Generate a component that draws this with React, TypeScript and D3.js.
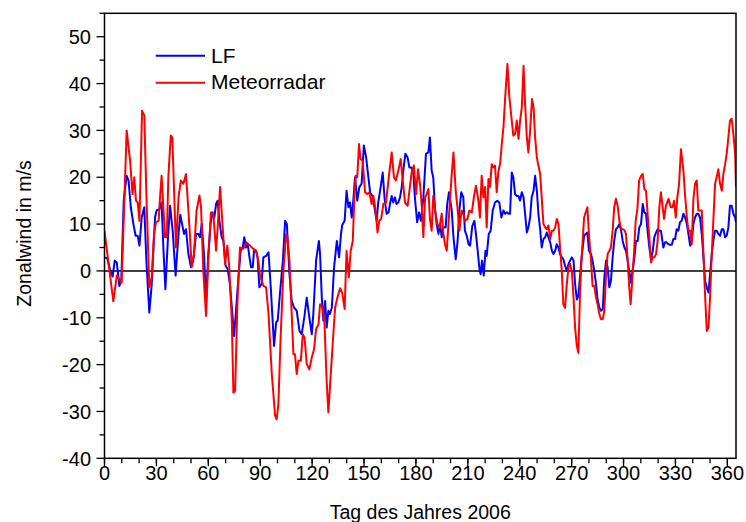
import React from "react";
import * as d3 from "d3";

const lfDays = [0,1.6,3.1,4.7,5.9,7.1,8.6,9.7,11.1,12.8,13.9,15.2,16.7,18,19.2,20.2,21.5,23,24.2,25.9,27.3,29.2,30.1,31.7,33,34.1,35.2,36.7,37.9,39.4,41.1,42.8,43.8,45.2,46,47.1,48.5,50,51.3,52.9,54.3,55.2,56.2,57.5,58.7,60,61.3,62.5,63.5,64.5,65.4,66.4,67.7,68.7,70,71.2,72.5,73.9,74.9,76,77.4,78.7,79.9,80.8,81.8,82.8,83.8,84.7,85.7,86.4,87.6,88.5,89.5,90.8,91.8,93.4,94.8,96.1,98,99.2,100.1,101.4,103.1,104.4,105.4,106.9,108.2,109.5,111.1,112.7,114,115.6,116.9,118.4,119.8,120.7,122.3,123.9,124.6,125.6,126.5,127.5,128.4,129.4,130.3,131.4,132.7,134.3,135.6,136.7,137.4,138.8,139.9,141,141.9,142.9,143.8,144.8,146.1,147.3,148.6,149.9,151.2,152.3,153.5,154.8,155.9,157.3,158.2,159.6,160.8,162,163.1,164.2,165,166,166.9,167.9,168.8,169.8,170.8,171.8,172.7,173.9,175.2,176.2,177.3,178.5,179.4,180.7,181.8,182.9,184.3,185.8,187.2,188.1,189.1,190,191.1,192,193,194,194.9,195.9,197.2,198.1,199.1,200.7,201.7,203,204.1,205.1,206.2,207.4,208.3,209.4,210.4,211.3,212.6,213.8,214.7,215.7,216.6,217.4,218.2,219.2,220.2,220.9,222.1,223.2,224.4,225.7,227,228.2,229.4,230.6,231.6,232.5,233.5,234.4,235.4,236.3,237.3,238.3,239.3,240.2,241.2,242.2,243.1,244.1,245,246,246.9,248,248.9,249.9,250.8,251.8,252.7,253.7,254.7,255.6,256.6,257.6,258.6,259.5,260.5,261.4,262.4,263.3,264.3,265.2,266.2,267.2,268.2,269.1,270.1,271.1,272,273,273.9,274.9,275.8,277.2,278.1,279.1,280,281.2,282.1,283.1,284.1,285,286,287,288,288.9,289.9,290.8,291.8,292.7,293.7,294.6,295.6,296.6,297.6,298.6,299.5,300.5,301.4,302.4,303.3,304.3,305.2,306.3,307.2,308.2,309.1,310.1,311.1,312,313,313.9,314.9,315.9,316.9,317.8,318.8,319.7,320.7,321.6,323,324,324.9,326,326.9,327.9,328.8,329.8,330.7,331.7,332.6,333.6,334.6,335.6,336.6,337.5,338.5,339.4,340.4,341.3,342.3,343.2,344.2,345.2,346.2,347.1,348.1,349.1,350,351,351.9,352.9,353.8,354.8,355.8,356.8,357.7,358.7,359.6,360.6,361.5,362.5,363.5,364.5,365];
const lfValues = [2.9,2.7,0.4,-1.2,2.2,1.8,-3.2,-2.1,15,20.3,19.3,13.6,10,7.5,7.5,5.4,11.4,13.6,2.2,-8.9,-2.8,11.4,12.9,13.2,14.6,4.3,-3.9,7.2,13.9,8.6,-1,7.9,12,9.3,7.9,8.9,3.6,0.8,2.2,7.9,7.9,7.2,10,3.6,-6.4,3.6,10,12.5,11.4,14.3,15,10.7,7.2,6.4,1.1,0.4,-2.8,-9.2,-13.9,-8.5,-1.4,4.3,5,7.2,5,5.7,2.9,0.8,0.8,4.3,4.3,2.9,-3.5,-2.8,2.9,3.2,4,-3.5,-16,-11,-10.6,-4.9,2.2,10.7,10,-0.7,-6.4,-7.8,-8.5,-12.8,-13.5,-9.6,-5.7,-9.9,-13.5,-9.2,2.2,6.4,3.6,-5.7,-10.6,-6.4,-12.1,-8.5,-9.2,-7.8,0.8,6.4,2.9,7.9,9.8,10.7,17.1,13.6,14.6,11.4,15,20,15,17.9,18.6,26.8,24.3,20.7,16.8,16,13.9,10.7,14.6,17.9,21,15,12.2,12.5,14.3,16,14.6,15.7,14.3,14.6,15.7,17.9,21.4,25,24.2,22.1,22.1,21,15.7,10.4,12.5,10.7,15.7,25,25.3,28.5,21.4,20,12.9,10,7.9,10,7.2,9.3,9.3,14.3,16.8,12.9,7.2,2.5,6.4,12.9,16.8,15.7,8.6,7.5,5.7,5.4,9.6,10.7,7.9,4.3,0.8,-0.7,2.2,-1,4.3,3.2,7.9,8.6,12.9,14.6,15,14.6,11.4,12.9,12.2,12.5,12.2,12.2,21,20,16.4,16,16,15,16.8,15.7,12.2,8.2,9.3,11.4,15.7,17.1,20.3,17.1,12.2,8.9,5,6.8,7.2,8.2,7.2,6.1,4.3,3.6,4.3,5.7,5,3.6,2.9,2.5,1.1,0,1.5,2.2,2.9,2.2,-2.8,-6.1,-5.3,-1,3,7.5,7.9,8.2,4.3,3.6,2.2,0,-2.8,-6.1,-7.8,-8.5,-8.2,-1.4,2.2,0.8,-3.5,-2.1,2.9,6.4,8.9,9.3,10,8.6,6.4,5,4.3,2.2,0,-2.5,0,2.9,6.4,6.4,9.3,10,14.3,12.5,12.2,8.6,5,2.5,4.3,7.2,8.2,8.9,8.6,8.6,5,6.1,6.1,5.7,5.6,5.6,6.8,6.8,8.9,8.6,10.4,10.7,12.2,11.4,10,7.9,5.4,6.4,10,11.4,12.2,12.2,11.4,7.9,2.9,-2.1,-3.5,-4.6,-0.7,3.6,6.4,8.6,8.6,7.9,7.5,8.9,8.9,7.2,7.5,9.3,13.9,13.9,12.2,11.4,10.4];

const radarDays = [0,5.1,7.1,9.9,12.8,14.8,16.2,17.2,18.2,19.2,20.2,21.7,23,24.2,25.9,27.3,28.6,29.8,31.3,32.1,33,35,36,36.9,38.3,39.2,41.3,42.8,44.1,45.6,47.1,49,50.4,51.7,53.2,54.9,55.8,57.1,58.7,60,61.5,62.9,64.5,65.4,66.8,68.3,69.7,71,72.1,73.6,74.5,75.5,76.8,78.3,80.2,82.1,84.1,86.1,87.6,88.9,89.9,91.8,93.4,94.8,96.7,98.6,99.5,100.5,101.8,103.4,105,105.7,106.9,108.2,109.2,110.1,111.1,112.1,113.5,114.6,115.6,116.9,118.4,119.8,121.1,122.3,123.7,124.6,126,127.1,128.4,129.4,130.3,132,133.3,134.6,136.2,137.4,138.8,139.9,141.2,142.3,143.5,144.4,145.2,146.1,147.1,148,149.2,150.6,151.9,153.1,154.4,155.4,156.7,157.8,158.8,159.9,161.2,162.7,164.1,166,167.3,168.4,169.8,171.2,172.4,173.7,175.2,176.5,177.5,178.8,180.1,181.2,182.4,183.4,184.3,185.3,186.2,187.2,188.1,189.1,190,191.1,192.4,193.6,194.9,195.9,196.8,197.8,198.7,199.8,200.7,201.7,203,204,205.1,206.4,207.4,208.3,209.8,210.9,212.3,213.6,214.7,216.1,217,218,219,220,220.9,221.9,222.8,223.8,224.8,225.7,226.7,227.6,228.7,229.6,230.6,231.6,232.9,234,235.4,236.3,237.3,238.3,239.3,240.2,241.2,242.2,243.1,244.1,245,246,247.1,248,248.9,249.9,250.8,251.8,252.7,253.7,254.7,255.6,256.6,257.6,258.6,259.5,260.5,261.4,262.4,263.3,264.3,265.2,266.2,267.2,268.2,269.1,270.1,271.1,272,273,273.9,274.9,275.8,277.2,278.1,279.1,280,281.2,282.1,283.1,284.1,285,286,287,288,288.9,289.9,290.8,291.8,292.7,293.7,294.6,295.6,296.6,297.6,298.6,299.5,300.5,301.4,302.4,303.3,304.1,305,306,307,308,309,310.1,311.1,312,313,313.9,314.9,315.9,316.9,317.8,318.8,319.7,320.7,321.6,323.4,324.5,326,327.3,328.3,329.2,330.2,331.1,332.1,333.2,334.6,335.6,336.6,337.5,338.5,339.4,340.4,341.3,342.3,343.2,344.2,345.2,346.2,347.1,348.1,349.1,350,351,351.9,352.9,353.8,354.8,355.8,356.8,357.7,358.7,359.6,360.6,361.5,362.5,363.5,364.5,365];
const radarValues = [8.5,-6.5,-1,-2.5,30,23.5,16.4,20,15,14.6,10.7,34.2,33.2,16.4,-3.5,-1.4,7.9,10.4,10.7,15.7,20.3,7.2,7.2,20,28.9,28.5,5,15.7,19.3,18.6,20.7,10,0.8,3.6,12.9,16.1,13.6,0,-9.6,2.2,12.5,12.2,4.3,9.3,17.9,9.3,1.5,5.4,0.8,-11,-26,-25.6,-7.1,5,4.7,6.1,5.4,4.7,4.3,2.2,-1,-3.2,-3.5,-9.2,-22,-30.9,-31.7,-28.5,-14.2,0,7.9,7.2,2.2,-9.2,-17.8,-17.8,-22,-19.2,-19.2,-13.5,-14.2,-19.9,-21,-18.5,-16.7,-12.4,-11.4,-7.1,-7.8,-10.7,-23.5,-30.2,-24.9,-14.9,-7.8,-5.7,-3.7,-4.7,-8.1,4.3,-1.4,4.3,6.4,15.7,20.3,20,27.1,23.9,23.5,16.8,16.4,16.8,14.3,16,12.9,8.2,10.7,11.1,14.3,14.6,19.3,25.3,20,19.3,21.4,23.9,19.3,14.6,13.9,17.9,21,22.5,16.4,21.7,18.4,13.6,7.2,15.7,16.4,17.5,11.1,8.6,16,12.9,10,9.3,12.2,7.9,5.7,4.3,9.3,15.7,20.7,25.3,17.1,13.6,8.6,12.9,12.2,10.7,11.1,12.9,12.5,16,18.2,15,11.4,20.3,15.7,17.9,9.3,19.6,17.9,22.8,22.1,22.5,16.8,21,23,27,30.7,37.1,44.2,37.1,32.1,28.9,29.2,32.1,28.2,32.1,34.9,43.8,35.7,28.5,25.3,29.9,36.7,34.9,28.5,24.2,22.5,20.7,15.7,10,9.3,8.9,9.7,6.8,8.6,8.6,9.3,11.1,10,5,0,-7.1,-7.9,-2.8,0.8,1.5,0,-5.7,-12.1,-16,-17.5,-4,3,11.4,12.5,13.6,7.9,2.2,-3.2,-3.2,-5.7,-7.1,-9.2,-10.3,-10.3,-8.5,-0.7,3.6,4.3,5,8.6,13.6,15.4,13.9,10.7,8.9,8.9,8.7,7.9,2.2,-3.5,-7.1,-2.1,3.6,10.7,13.2,19.3,20.3,20.7,17.5,17.1,12.2,7.2,1.8,2.9,2.9,3.6,6.4,13.6,16.8,11.1,13.9,15.4,13.6,13.6,15,11.4,15.7,18.6,26,21.4,16,11.4,8.6,8.6,5.7,15.4,18.6,19.3,12.9,12.9,12.9,3.6,-4.9,-12.8,-12.1,-5.7,3.6,10.7,18.6,20,21.7,18.6,17.1,20.7,22.8,25,28.5,32.1,32.5,29.2,25,17.9];

const xTicks = [0, 30, 60, 90, 120, 150, 180, 210, 240, 270, 300, 330, 360];
const xMinorTicks = d3.range(0, 366, 10);
const yTicks = [-40, -30, -20, -10, 0, 10, 20, 30, 40, 50];
const yMinorTicks = d3.range(-40, 56, 5);
const seriesNames = ["LF", "Meteorradar"];
const seriesColors = ["#0000ff", "#ff0000"];

const W = 746, H = 522;
const L = 104.5, R = 736, T = 13.3, B = 458.3;
const FONT = '"Liberation Sans", Arial, sans-serif';

export default function App() {
  const x = d3.scaleLinear().domain([0, 365]).range([L, R]);
  const y = d3.scaleLinear().domain([-40, 55]).range([B, T]);
  const line = d3.line<[number, number]>().x(d => x(d[0])).y(d => y(d[1]));
  const lf = lfDays.map((d, i) => [d, lfValues[i]] as [number, number]);
  const radar = radarDays.map((d, i) => [d, radarValues[i]] as [number, number]);

  return (
    <svg width={W} height={H} style={{ position: "absolute", left: 0, top: 0, background: "#fff" }} fontFamily={FONT}>
      <rect x={0} y={0} width={W} height={H} fill="#fff" />
      <defs>
        <clipPath id="plot"><rect x={L} y={T} width={R - L} height={B - T} /></clipPath>
      </defs>
      {/* zero line */}
      <line x1={L} x2={R} y1={y(0)} y2={y(0)} stroke="#000" strokeWidth={1.5} />
      <g clipPath="url(#plot)">
        <path d={line(lf) || ""} fill="none" stroke={seriesColors[0]} strokeWidth={2} strokeLinejoin="round" />
        <path d={line(radar) || ""} fill="none" stroke={seriesColors[1]} strokeWidth={2} strokeLinejoin="round" />
      </g>
      {/* frame */}
      <rect x={L} y={T} width={R - L} height={B - T} fill="none" stroke="#000" strokeWidth={1.5} />
      {/* y axis ticks */}
      {yMinorTicks.map(v => (
        <line key={"ym" + v} x1={L - (v % 10 === 0 ? 8 : 5)} x2={L} y1={y(v)} y2={y(v)} stroke="#000" strokeWidth={1.3} />
      ))}
      {yTicks.map(v => (
        <text key={"yt" + v} x={91} y={y(v)} dy="0.36em" textAnchor="end" fontSize={20} fill="#000">{v}</text>
      ))}
      {/* x axis ticks */}
      {xMinorTicks.map(v => (
        <line key={"xm" + v} x1={x(v)} x2={x(v)} y1={B} y2={B + 5} stroke="#000" strokeWidth={1.3} />
      ))}
      {xTicks.map(v => (
        <g key={"xt" + v}>
          <line x1={x(v)} x2={x(v)} y1={B} y2={B + 8} stroke="#000" strokeWidth={1.3} />
          <text x={x(v)} y={480} textAnchor="middle" fontSize={20} fill="#000">{v}</text>
        </g>
      ))}
      {/* axis titles */}
      <text x={(L + R) / 2} y={519} textAnchor="middle" fontSize={19.5} fill="#000">Tag des Jahres 2006</text>
      <text transform={`translate(31,233.5) rotate(-90)`} textAnchor="middle" fontSize={19.5} fill="#000">Zonalwind in m/s</text>
      {/* legend */}
      {seriesNames.map((name, i) => (
        <g key={name}>
          <line x1={155.7} x2={205} y1={55.7 + i * 27} y2={55.7 + i * 27} stroke={seriesColors[i]} strokeWidth={2} />
          <text x={211} y={63.3 + i * 26} fontSize={21} fill="#000">{name}</text>
        </g>
      ))}
    </svg>
  );
}
